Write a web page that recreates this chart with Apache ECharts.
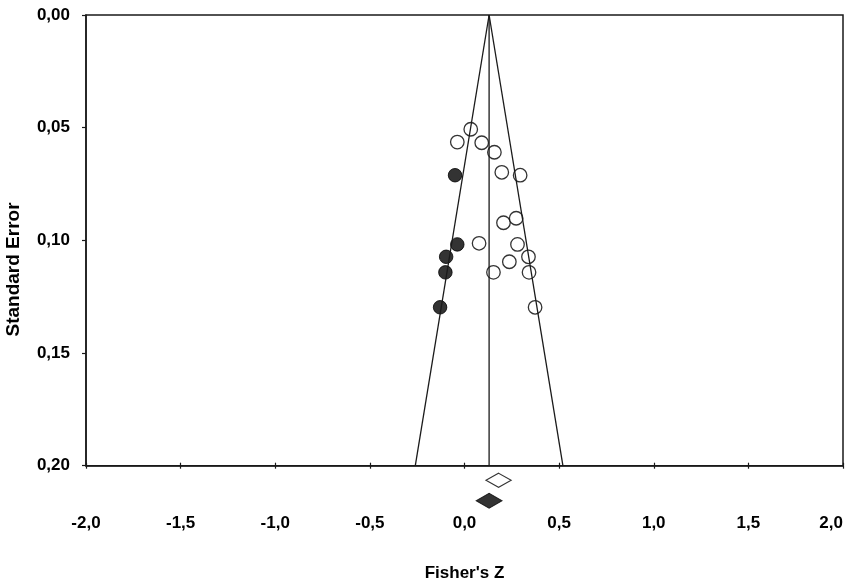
<!DOCTYPE html>
<html>
<head>
<meta charset="utf-8">
<script src="https://cdn.jsdelivr.net/npm/echarts@6/dist/echarts.min.js"></script>
<style>
html,body{margin:0;padding:0;background:#fff;}
#chart{width:851px;height:587px;}
</style>
</head>
<body>
<div id="chart"></div>
<script>
// Observed studies: [Fisher's Z, Standard Error]
var observedStudies = [
  [0.033, 0.0507], [-0.038, 0.0564], [0.091, 0.0567], [0.158, 0.0609],
  [0.197, 0.0698], [0.294, 0.0711], [0.206, 0.0922], [0.273, 0.0902],
  [0.077, 0.1013], [0.280, 0.1018], [0.338, 0.1073], [0.237, 0.1095],
  [0.153, 0.1142], [0.341, 0.1142], [0.373, 0.1297]
];
// Imputed studies (trim and fill)
var imputedStudies = [
  [-0.050, 0.0711], [-0.038, 0.1018], [-0.097, 0.1073], [-0.101, 0.1142], [-0.129, 0.1297]
];
// Funnel lines
var funnelLeft = [[0.13, 0], [-0.26, 0.20]];
var funnelRight = [[0.13, 0], [0.52, 0.20]];
var meanLine = [[0.13, 0], [0.13, 0.20]];
// Summary diamonds
var summaryLabels = ['Observed', 'Adjusted'];
var observedMean = [[0.18, 'Observed']];
var adjustedMean = [[0.13, 'Adjusted']];
// Tick labels
var xTickValues = [-2, -1.5, -1, -0.5, 0, 0.5, 1, 1.5, 2];
var xTickLabels = ['-2,0', '-1,5', '-1,0', '-0,5', '0,0', '0,5', '1,0', '1,5', '2,0'];
var yTickValues = [0, 0.05, 0.10, 0.15, 0.20];
var yTickLabels = ['0,00', '0,05', '0,10', '0,15', '0,20'];

function lookup(vals, labels, v) {
  for (var i = 0; i < vals.length; i++) {
    if (Math.abs(vals[i] - v) < 1e-9) return labels[i];
  }
  return '';
}

var FONT = "'Liberation Sans', Arial, sans-serif";
var chart = echarts.init(document.getElementById('chart'), null, {renderer: 'canvas'});
var lineCol = '#1a1a1a';

var option = {
  animation: false,
  backgroundColor: '#ffffff',
  grid: [
    {left: 86, right: 8, top: 15, bottom: 121.3, show: true, borderColor: lineCol, borderWidth: 1.5, containLabel: false},
    {left: 86, right: 8, top: 470, height: 41, show: false}
  ],
  xAxis: [
    {
      gridIndex: 0, type: 'value', min: -2, max: 2, interval: 0.5, position: 'bottom',
      name: "Fisher's Z", nameLocation: 'middle', nameGap: 99,
      nameTextStyle: {fontFamily: FONT, fontSize: 17, fontWeight: 'bold', color: '#000'},
      axisLine: {show: true, onZero: false, lineStyle: {color: lineCol, width: 1.5}},
      axisTick: {show: true, inside: true, length: 3, lineStyle: {color: lineCol, width: 1.2}},
      axisLabel: {
        show: true, margin: 49, fontFamily: FONT, fontSize: 17, fontWeight: 'bold', color: '#000',
        alignMaxLabel: 'right',
        formatter: function (v) { return lookup(xTickValues, xTickLabels, v); }
      },
      splitLine: {show: false}
    },
    {
      gridIndex: 0, type: 'value', min: -2, max: 2, interval: 0.5, position: 'bottom',
      axisLine: {show: false, onZero: false},
      axisTick: {show: true, inside: false, length: 3, lineStyle: {color: lineCol, width: 1.2}},
      axisLabel: {show: false},
      splitLine: {show: false}
    },
    {gridIndex: 1, type: 'value', min: -2, max: 2, show: false}
  ],
  yAxis: [
    {
      gridIndex: 0, type: 'value', min: 0, max: 0.2, interval: 0.05, inverse: true,
      axisLine: {show: true, onZero: false, lineStyle: {color: lineCol, width: 1.5}},
      axisTick: {show: true, inside: false, length: 4, lineStyle: {color: lineCol, width: 1.2}},
      axisLabel: {
        margin: 16, fontFamily: FONT, fontSize: 17, fontWeight: 'bold', color: '#000',
        formatter: function (v) { return lookup(yTickValues, yTickLabels, v); }
      },
      splitLine: {show: false}
    },
    {gridIndex: 1, type: 'category', data: summaryLabels, inverse: true, show: false}
  ],
  graphic: [
    {
      type: 'text', x: 13.5, y: 269.5, rotation: Math.PI / 2,
      style: {text: 'Standard Error', fontFamily: FONT, fontSize: 19, fontWeight: 'bold', fill: '#000',
        align: 'center', verticalAlign: 'middle'}
    }
  ],
  series: [
    {type: 'line', xAxisIndex: 0, yAxisIndex: 0, data: funnelLeft, symbol: 'none', silent: true,
      lineStyle: {color: lineCol, width: 1.3}},
    {type: 'line', xAxisIndex: 0, yAxisIndex: 0, data: funnelRight, symbol: 'none', silent: true,
      lineStyle: {color: lineCol, width: 1.3}},
    {type: 'line', xAxisIndex: 0, yAxisIndex: 0, data: meanLine, symbol: 'none', silent: true,
      lineStyle: {color: lineCol, width: 1.3}},
    {type: 'scatter', name: 'Observed', xAxisIndex: 0, yAxisIndex: 0, data: observedStudies,
      symbol: 'circle', symbolSize: 13.5,
      itemStyle: {color: '#fff', borderColor: '#000', borderWidth: 1.3}},
    {type: 'scatter', name: 'Imputed', xAxisIndex: 0, yAxisIndex: 0, data: imputedStudies,
      symbol: 'circle', symbolSize: 13.5,
      itemStyle: {color: '#000', borderColor: '#000', borderWidth: 1}},
    {type: 'scatter', name: 'Observed mean', xAxisIndex: 2, yAxisIndex: 1, data: observedMean,
      symbol: 'diamond', symbolSize: [25, 14],
      itemStyle: {color: '#fff', borderColor: '#000', borderWidth: 1.3}},
    {type: 'scatter', name: 'Adjusted mean', xAxisIndex: 2, yAxisIndex: 1, data: adjustedMean,
      symbol: 'diamond', symbolSize: [26, 15],
      itemStyle: {color: '#000', borderColor: '#000', borderWidth: 1}}
  ]
};
chart.setOption(option);
</script>
</body>
</html>
